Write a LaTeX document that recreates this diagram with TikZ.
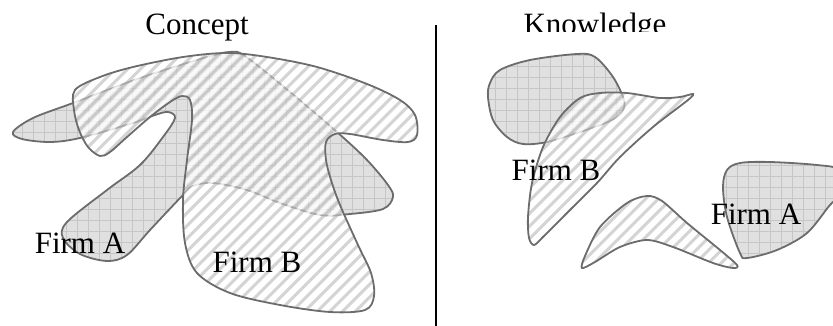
\documentclass[tikz,border=0pt]{standalone}
\usepackage{fontspec}
\setmainfont{Liberation Serif}
\usepackage{tikz}
\usetikzlibrary{positioning}
\definecolor{edgegray}{RGB}{108,108,108}
\definecolor{firmAgray}{RGB}{224,224,224}
\definecolor{gridgray}{RGB}{198,198,198}
\definecolor{stripegray}{RGB}{160,160,160}

% outlines of the firms
\def\conceptA{plot[smooth cycle, tension=0.55] coordinates {(13,132) (33,118) (73,103) (140,78) (207,57) (230,52) (245,56) (290,92) (337,132) (367,160) (388,185) (393,197) (383,209) (350,214) (320,215) (280,203) (247,190) (213,183) (193,186) (183,195) (150,230) (127,255) (107,261) (80,254) (63,238) (67,222) (107,190) (140,165) (163,137) (175,118) (168,112) (155,115) (133,123) (80,138) (50,142) (22,139)}}
\def\conceptB{plot[smooth cycle, tension=0.55] coordinates {(75,90) (100,77) (133,67) (183,57) (227,53) (267,57) (317,67) (367,84) (400,100) (415,115) (417,135) (408,142) (383,140) (350,134) (335,134) (326,142) (326,160) (331,180) (340,205) (358,245) (371,273) (374,296) (365,310) (330,312) (280,305) (230,293) (197,273) (185,243) (183,200) (187,160) (192,120) (190,100) (182,96) (170,102) (150,117) (127,137) (110,152) (100,156) (88,147) (79,130) (74,110)}}
\def\knowA{plot[smooth cycle, tension=0.55] coordinates {(488,97) (490,83) (500,70) (530,60) (577,54) (595,57) (613,77) (624,100) (622,112) (610,121) (580,132) (547,142) (523,144) (507,137) (493,120)}}
\def\knowB{plot[smooth cycle, tension=0.5] coordinates {(580,98) (600,93) (627,93) (660,98) (680,97) (693,94) (688,100) (653,127) (620,157) (597,183) (570,210) (543,237) (534,245) (529,238) (528,217) (532,183) (543,147) (560,117)}}
\def\knowBoom{plot[smooth cycle, tension=0.5] coordinates {(582,268) (585,256) (600,227) (627,203) (647,196) (662,201) (687,223) (720,250) (737,265) (733,268) (713,263) (673,247) (647,240) (620,247) (595,262)}}
\def\knowArt{plot[smooth cycle, tension=0.55] coordinates {(723,187) (727,170) (740,163) (770,162) (817,165) (840,170) (845,190) (830,205) (807,233) (777,250) (747,258) (740,253) (727,217)}}

% gray grid fill and striped fill
\newcommand{\gridfill}[1]{%
  \begin{scope}
    \clip #1;
    \fill[firmAgray] #1;
    \foreach \g in {0,11,...,840} \draw[gridline] (\g,0) -- (\g,330);
    \foreach \g in {0,11,...,330} \draw[gridline] (0,\g) -- (840,\g);
  \end{scope}}
\newcommand{\stripefill}[1]{%
  \begin{scope}
    \clip #1;
    \fill[white, opacity=0.45] #1;
    \foreach \c in {0,12.7,...,1180} {
      \draw[stripeW] (\c,0) -- (\c-340,340);
      \draw[stripeG] (\c+6.35,0) -- (\c-333.65,340);
    }
  \end{scope}}

\tikzset{
  outline/.style={draw=edgegray, line width=1.8pt},
  gridline/.style={gridgray, line width=0.6pt},
  stripeW/.style={white, line width=3.2pt, opacity=0.7},
  stripeG/.style={stripegray, line width=3pt, opacity=0.45},
  firmlabel/.style={font=\fontsize{31}{36}\selectfont, inner sep=0pt, anchor=base}
}

\begin{document}
\begin{tikzpicture}[x=1pt,y=-1pt]
    \useasboundingbox (0,0) rectangle (833,326);
    \begin{scope}
    \clip (0,0) rectangle (833,326);

    % concept side
    \gridfill{\conceptA}
    \draw[outline] \conceptA;
    \stripefill{\conceptB}
    \draw[outline] \conceptB;

    % knowledge side
    \gridfill{\knowA}
    \draw[outline] \knowA;
    \stripefill{\knowB}
    \draw[outline] \knowB;
    \stripefill{\knowBoom}
    \draw[outline] \knowBoom;
    \gridfill{\knowArt}
    \draw[outline] \knowArt;
    \end{scope}

    % divider
    \coordinate (divtop) at (436,25);
    \coordinate (divbot) at (436,326);
    \draw[black, line width=1.3pt] (divtop) -- (divbot);

    % titles
    \node[firmlabel] (concept) at (197,35) {Concept};
    \begin{scope}
        \clip (480,0) rectangle (720,32);
        \node[firmlabel] (knowledge) at (595,35) {Knowledge};
    \end{scope}

    % labels
    \node[firmlabel] (firmAleft) at (80,253) {Firm A};
    \node[firmlabel] (firmBleft) at (257,272) {Firm B};
    \node[firmlabel] (firmBright) at (556,180) {Firm B};
    \node[firmlabel] (firmAright) at (756,224) {Firm A};
\end{tikzpicture}
\end{document}
